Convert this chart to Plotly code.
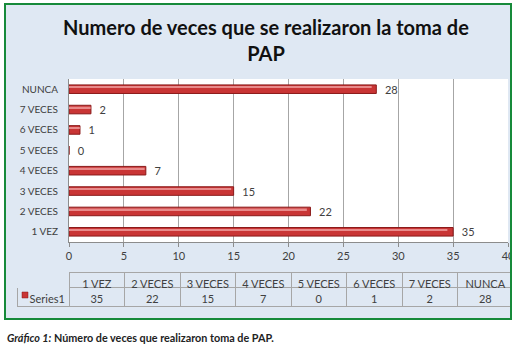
import plotly.graph_objects as go

categories = ["1 VEZ", "2 VECES", "3 VECES", "4 VECES", "5 VECES", "6 VECES", "7 VECES", "NUNCA"]
values = [35, 22, 15, 7, 0, 1, 2, 28]
series_name = "Series1"
x_ticks = [0, 5, 10, 15, 20, 25, 30, 35, 40]

W, H = 517, 346
BG = "#dfe8f3"
FONT = "Lato, 'Open Sans', sans-serif"
TXT = "#404040"


def px(x):
    return x / W


def py(y):
    return 1 - y / H


fig = go.Figure()
# main bar
fig.add_trace(go.Bar(
    y=categories, x=values, orientation="h", name=series_name,
    marker=dict(color="#c93535", line=dict(color="#8a1a1a", width=1)),
    width=0.42,
    text=values, texttemplate="  %{x}", textposition="outside",
    textfont=dict(family=FONT, size=11, color=TXT), constraintext="none",
    cliponaxis=False, showlegend=False,
))
# highlight stripe (same data)
fig.add_trace(go.Bar(
    y=categories, x=[v * 0.985 for v in values], orientation="h",
    marker=dict(color="#e88a8a", line=dict(width=0)),
    width=0.08, offset=0.06, showlegend=False, hoverinfo="skip",
))

fig.update_layout(
    barmode="overlay",
    width=W, height=H,
    margin=dict(l=0, r=0, t=0, b=0),
    paper_bgcolor=BG, plot_bgcolor="white",
    font=dict(family=FONT, size=11, color=TXT),
    xaxis=dict(domain=[px(69), px(508)], range=[0, 40], tickvals=x_ticks, showgrid=True,
               gridcolor="#a6a6a6", gridwidth=1, showline=True, linecolor="#8c8c8c",
               ticks="outside", ticklen=4, tickcolor="#8c8c8c", zeroline=False,
               automargin=False, tickfont=dict(size=11, color=TXT)),
    yaxis=dict(domain=[py(242), py(79)], categoryorder="array", categoryarray=categories,
               showline=True, linecolor="#8c8c8c", ticks="", ticklabelstandoff=8,
               automargin=False, tickfont=dict(size=10, color=TXT)),
)

# table
cols = [""] + [c.replace(" ", "\u00a0") for c in categories]
cells = [["\u00a0\u00a0\u00a0" + series_name]] + [[v] for v in values]
fig.add_trace(go.Table(
    domain=dict(x=[px(17), px(513)], y=[py(320), py(272)]),
    columnwidth=[52] + [55.4] * 8,
    header=dict(values=cols, height=15, fill_color=BG,
                line=dict(color=[BG] + ["#a6a6a6"] * 8, width=1),
                font=dict(family=FONT, size=11, color=TXT), align="center"),
    cells=dict(values=cells, height=19, fill_color=BG,
               line=dict(color="#a6a6a6", width=1),
               font=dict(family=FONT, size=11, color=TXT), align="center"),
))

white = dict(fillcolor="white", line=dict(width=0), layer="above",
             type="rect", xref="paper", yref="paper")
shapes = [
    dict(white, x0=0, x1=1, y0=0, y1=py(320)),
    dict(white, x0=0, x1=1, y0=py(3), y1=1),
    dict(white, x0=0, x1=px(4), y0=0, y1=1),
    dict(white, x0=px(512), x1=1, y0=0, y1=1),
    dict(type="rect", xref="paper", yref="paper", x0=px(5), x1=px(511),
         y0=py(319), y1=py(4), line=dict(color="#178a3a", width=2), layer="above"),
    # legend key of the data table
    dict(type="rect", xref="paper", yref="paper", x0=px(22), x1=px(28),
         y0=py(298), y1=py(292), fillcolor="#c93535",
         line=dict(color="#8a1a1a", width=0.5), layer="above"),
]
fig.update_layout(shapes=shapes)

fig.add_annotation(
    text="<b>Numero de veces que se realizaron la toma de<br>PAP</b>",
    xref="paper", yref="paper", x=px(266), y=py(40), xanchor="center", yanchor="middle",
    showarrow=False, font=dict(family=FONT, size=20, color="#111111"),
)
fig.add_annotation(
    text="<b><i>Gráfico 1:</i> Número de veces que realizaron toma de PAP.</b>",
    xref="paper", yref="paper", x=px(5), y=py(337), xanchor="left", yanchor="middle",
    showarrow=False, font=dict(family=FONT, size=10.8, color="#222222"),
)

fig.write_html("out.html", config={"displayModeBar": False},
               post_script="document.body.style.margin='0';")
